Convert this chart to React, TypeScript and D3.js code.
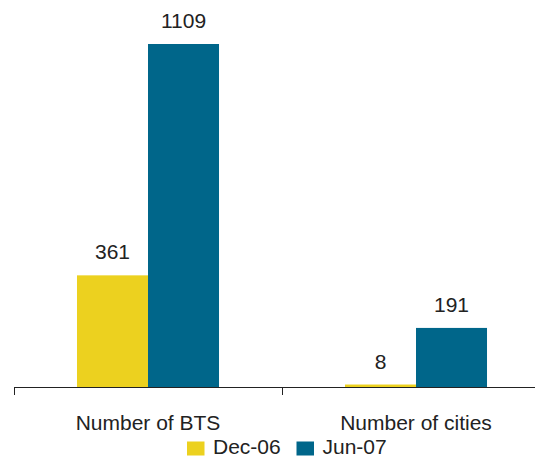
import React from "react";
import * as d3 from "d3";

const categories = ["Number of BTS", "Number of cities"];
const seriesNames = ["Dec-06", "Jun-07"];
const dec06 = [361, 8];
const jun07 = [1109, 191];
const colors = ["#ECD11F", "#00668A"];

const W = 535;
const H = 457;
const FONT = "'Liberation Sans', Arial, sans-serif";

export default function App() {
  const values = [dec06, jun07];
  const x0 = d3.scaleBand<string>().domain(categories).range([14, 550]).padding(0);
  const bw = x0.bandwidth();
  const x1 = d3
    .scaleBand<string>()
    .domain(seriesNames)
    .range([0, bw])
    .paddingInner(0)
    .paddingOuter(0.887);
  const y = d3.scaleLinear().domain([0, 1109]).range([387, 44]);
  const baseY = y(0);
  const tickXs = [...categories.map((c) => x0(c) as number), 550];

  return (
    <svg
      width={W}
      height={H}
      style={{ position: "fixed", left: 0, top: 0, background: "#fff" }}
      fontFamily={FONT}
    >
      {categories.map((c, ci) =>
        seriesNames.map((s, si) => {
          const v = values[si][ci];
          const bx = (x0(c) as number) + (x1(s) as number);
          const by = y(v);
          return (
            <g key={c + s}>
              <rect x={bx} y={by} width={x1.bandwidth()} height={baseY - by} fill={colors[si]} />
              <text
                x={bx + x1.bandwidth() / 2}
                y={by - 16}
                textAnchor="middle"
                fontSize={21}
                fill="#222"
              >
                {v}
              </text>
            </g>
          );
        })
      )}
      <line x1={14} x2={550} y1={baseY + 0.5} y2={baseY + 0.5} stroke="#222" strokeWidth={1} />
      {tickXs.map((tx, i) => (
        <line key={i} x1={tx + 0.5} x2={tx + 0.5} y1={baseY} y2={baseY + 8} stroke="#222" strokeWidth={1} />
      ))}
      {categories.map((c) => (
        <text
          key={c}
          x={(x0(c) as number) + bw / 2}
          y={430}
          textAnchor="middle"
          fontSize={21}
          fill="#222"
        >
          {c}
        </text>
      ))}
      {seriesNames.map((s, i) => {
        const lx = i === 0 ? 187 : 296.5;
        return (
          <g key={s}>
            <rect x={lx} y={441.5} width={17.5} height={14} fill={colors[i]} />
            <text x={lx + 26} y={454} fontSize={21} fill="#222">
              {s}
            </text>
          </g>
        );
      })}
    </svg>
  );
}
